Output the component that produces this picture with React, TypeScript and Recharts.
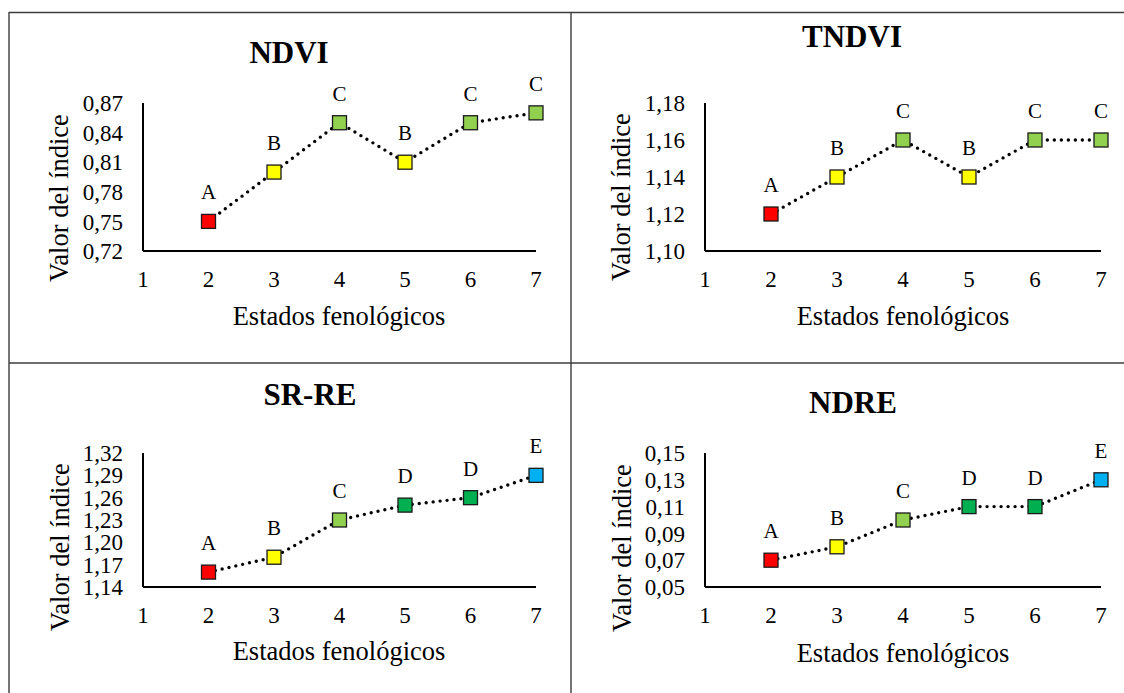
import { LineChart, Line, XAxis, YAxis, LabelList } from 'recharts';

const stages = [2, 3, 4, 5, 6, 7];
const xTicks = [1, 2, 3, 4, 5, 6, 7];

const ndviValues = [0.75, 0.8, 0.85, 0.81, 0.85, 0.86];
const ndviGroups = ['A', 'B', 'C', 'B', 'C', 'C'];
const ndviTicks = [0.72, 0.75, 0.78, 0.81, 0.84, 0.87];

const tndviValues = [1.12, 1.14, 1.16, 1.14, 1.16, 1.16];
const tndviGroups = ['A', 'B', 'C', 'B', 'C', 'C'];
const tndviTicks = [1.1, 1.12, 1.14, 1.16, 1.18];

const srreValues = [1.16, 1.18, 1.23, 1.25, 1.26, 1.29];
const srreGroups = ['A', 'B', 'C', 'D', 'D', 'E'];
const srreTicks = [1.14, 1.17, 1.2, 1.23, 1.26, 1.29, 1.32];

const ndreValues = [0.07, 0.08, 0.1, 0.11, 0.11, 0.13];
const ndreGroups = ['A', 'B', 'C', 'D', 'D', 'E'];
const ndreTicks = [0.05, 0.07, 0.09, 0.11, 0.13, 0.15];

// fill per significance group
const groupColors: Record<string, string> = {
  A: '#FF0000',
  B: '#FFFF00',
  C: '#92D050',
  D: '#00B050',
  E: '#00B0F0',
};

const FONT = 'Liberation Serif';

const fmt = (v: number) => v.toFixed(2).replace('.', ',');

const SquareDot = (props: any) => {
  const { cx, cy, payload, index } = props;
  if (cx == null || cy == null) return null;
  const s = 14;
  return (
    <rect
      key={`sq-${index}`}
      x={cx - s / 2}
      y={cy - s / 2}
      width={s}
      height={s}
      fill={groupColors[payload.group]}
      stroke="#1a1a1a"
      strokeWidth={1.3}
    />
  );
};

interface PanelProps {
  values: number[];
  groups: string[];
  ticks: number[];
  left: number;
  top: number;
  width: number;
  height: number;
  margin: { top: number; right: number; bottom: number; left: number };
}

const Panel = ({ values, groups, ticks, left, top, width, height, margin }: PanelProps) => {
  const data = stages.map((s, i) => ({ stage: s, value: values[i], group: groups[i] }));
  const tickStyle = { fontSize: 23, fill: '#000', fontFamily: FONT };
  return (
    <div style={{ position: 'absolute', left, top }}>
      <LineChart width={width} height={height} data={data} margin={margin} style={{ fontFamily: FONT }}>
        <XAxis
          type="number"
          dataKey="stage"
          domain={[1, 7]}
          ticks={xTicks}
          height={40}
          tickLine={false}
          tickSize={6}
          tickMargin={14}
          axisLine={{ stroke: '#000', strokeWidth: 2 }}
          tick={tickStyle}
          interval={0}
        />
        <YAxis
          type="number"
          domain={[ticks[0], ticks[ticks.length - 1]]}
          ticks={ticks}
          width={60}
          tickLine={false}
          tickSize={6}
          tickMargin={14}
          axisLine={{ stroke: '#000', strokeWidth: 2 }}
          tick={tickStyle}
          tickFormatter={fmt}
          interval={0}
        />
        <Line
          dataKey="value"
          stroke="#000"
          strokeWidth={3.4}
          strokeDasharray="0 7"
          strokeLinecap="round"
          dot={SquareDot}
          activeDot={false}
          isAnimationActive={false}
        >
          <LabelList
            dataKey="group"
            position="top"
            offset={22}
            style={{ fontSize: 21, fill: '#000', fontFamily: FONT }}
          />
        </Line>
      </LineChart>
    </div>
  );
};

const titles = [
  { text: 'NDVI', x: 289, y: 63 },
  { text: 'TNDVI', x: 852, y: 47 },
  { text: 'SR-RE', x: 310, y: 405 },
  { text: 'NDRE', x: 853, y: 413 },
];

const yLabels = [
  { x: 68, y: 198 },
  { x: 630, y: 197 },
  { x: 69, y: 547 },
  { x: 631, y: 548 },
];

const xLabels = [
  { x: 339, y: 325 },
  { x: 903, y: 325 },
  { x: 339, y: 660 },
  { x: 903, y: 662 },
];

export default function App() {
  const topMargin = { top: 90, right: 33, bottom: 70, left: 74 };
  const topMarginR = { top: 90, right: 22, bottom: 70, left: 73 };
  const botMargin = { top: 89, right: 33, bottom: 66, left: 74 };
  const botMarginR = { top: 89, right: 22, bottom: 66, left: 73 };
  return (
    <div
      style={{
        position: 'absolute',
        left: 0,
        top: 0,
        width: 1124,
        height: 693,
        overflow: 'hidden',
        background: '#fff',
        fontFamily: FONT,
      }}
    >
      <Panel values={ndviValues} groups={ndviGroups} ticks={ndviTicks} left={9} top={13} width={560} height={348} margin={topMargin} />
      <Panel values={tndviValues} groups={tndviGroups} ticks={tndviTicks} left={572} top={13} width={551} height={348} margin={topMarginR} />
      <Panel values={srreValues} groups={srreGroups} ticks={srreTicks} left={9} top={364} width={560} height={329} margin={botMargin} />
      <Panel values={ndreValues} groups={ndreGroups} ticks={ndreTicks} left={572} top={364} width={551} height={329} margin={botMarginR} />

      <svg
        width={1124}
        height={693}
        style={{ position: 'absolute', left: 0, top: 0, pointerEvents: 'none', fontFamily: FONT }}
      >
        <g stroke="#3c3c3c" strokeWidth={1.4}>
          <line x1={9} y1={12.5} x2={1124} y2={12.5} />
          <line x1={9} y1={12} x2={9} y2={693} />
          <line x1={571} y1={12} x2={571} y2={693} />
          <line x1={9} y1={363} x2={1124} y2={363} />
        </g>
        {titles.map((t) => (
          <text key={t.text} x={t.x} y={t.y} textAnchor="middle" fontSize={31} fontWeight="bold" fill="#000">
            {t.text}
          </text>
        ))}
        {yLabels.map((p, i) => (
          <text
            key={`yl-${i}`}
            x={p.x}
            y={p.y}
            textAnchor="middle"
            fontSize={26.5}
            fill="#000"
            transform={`rotate(-90, ${p.x}, ${p.y})`}
          >
            Valor del índice
          </text>
        ))}
        {xLabels.map((p, i) => (
          <text key={`xl-${i}`} x={p.x} y={p.y} textAnchor="middle" fontSize={26.5} fill="#000">
            Estados fenológicos
          </text>
        ))}
      </svg>
    </div>
  );
}
